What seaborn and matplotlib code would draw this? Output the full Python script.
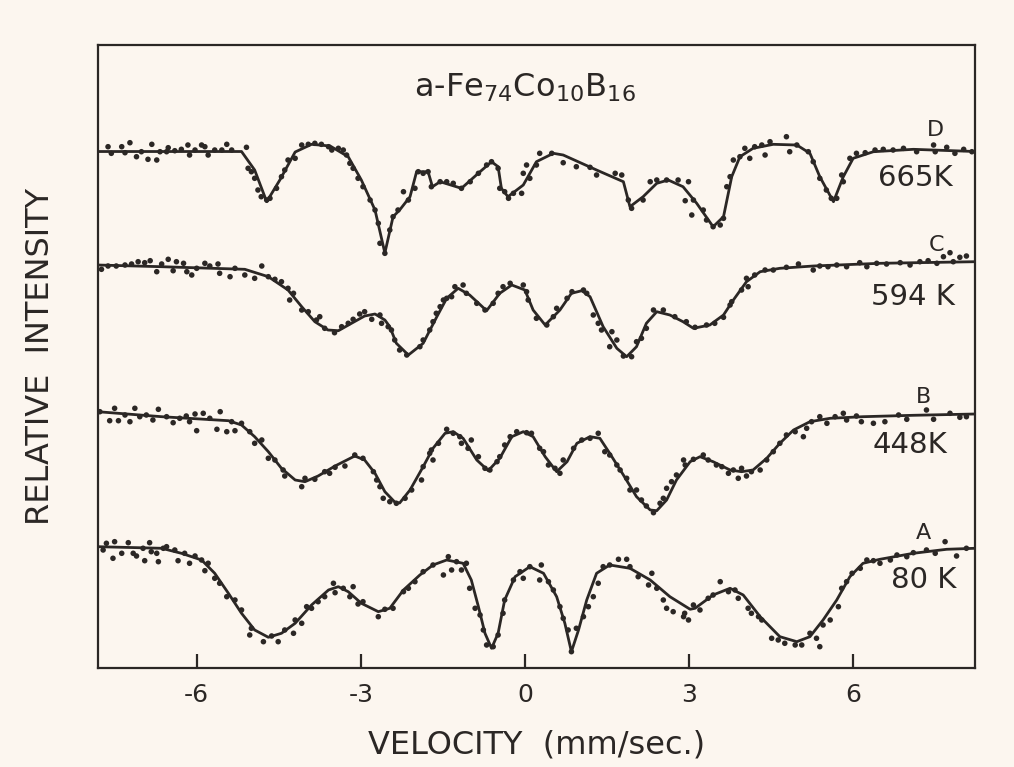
import numpy as np
import pandas as pd
import matplotlib
matplotlib.use("Agg")
import matplotlib.pyplot as plt
import seaborn as sns

# ---------------- data (velocity in mm/s, relative intensity in %) ----------------
spectra = ["D", "C", "B", "A"]
temperatures = ["665K", "594 K", "448K", "80 K"]

# D: 665 K  -- fitted curve
d_fit_v = [-7.81, -5.18, -4.94, -4.72, -4.48, -4.20, -3.90, -3.56, -3.23, -2.99, -2.74, -2.56, -2.41,
           -2.29, -2.10, -1.98, -1.77, -1.69, -1.55, -1.16, -0.82, -0.61, -0.49, -0.43, -0.31, -0.03,
           0.21, 0.52, 0.70, 1.31, 1.80, 1.92, 2.16, 2.41, 2.62, 2.89, 3.14, 3.44, 3.63, 3.78, 3.93,
           4.17, 4.54, 4.97, 5.21, 5.39, 5.64, 5.82, 6.00, 6.37, 7.10, 8.23]
d_fit_t = [100.0, 100.0, 98.15, 94.98, 97.15, 99.95, 100.72, 100.55, 99.48, 97.15, 94.15, 89.85, 93.48,
           94.15, 95.48, 97.98, 97.98, 96.48, 96.98, 96.32, 97.98, 98.98, 98.48, 96.32, 95.48, 96.65,
           98.98, 99.82, 99.65, 98.15, 96.98, 94.48, 95.48, 96.82, 97.15, 96.48, 94.82, 92.48, 93.48,
           97.48, 99.48, 100.32, 100.72, 100.65, 99.82, 97.48, 94.98, 97.48, 99.32, 99.98, 100.22, 100.0]
# D: measured points
d_pts_v = [-7.62, -7.56, -7.37, -7.31, -7.22, -7.10, -7.01, -6.89, -6.82, -6.73, -6.67, -6.55, -6.52,
           -6.40, -6.28, -6.16, -6.13, -6.03, -5.91, -5.85, -5.79, -5.67, -5.54, -5.45, -5.36, -5.09,
           -5.06, -5.00, -4.94, -4.88, -4.82, -4.72, -4.66, -4.54, -4.45, -4.39, -4.33, -4.20, -4.08,
           -3.96, -3.84, -3.72, -3.59, -3.53, -3.41, -3.32, -3.26, -3.20, -3.14, -3.05, -2.96, -2.83,
           -2.74, -2.68, -2.65, -2.56, -2.47, -2.41, -2.32, -2.22, -2.13, -2.01, -1.95, -1.86, -1.77,
           -1.71, -1.55, -1.43, -1.31, -1.16, -1.00, -0.85, -0.70, -0.61, -0.49, -0.46, -0.37, -0.30,
           -0.21, -0.06, -0.03, 0.03, 0.09, 0.21, 0.27, 0.49, 0.70, 0.94, 1.19, 1.31, 1.65, 1.77, 1.89,
           1.95, 2.16, 2.29, 2.41, 2.59, 2.80, 2.93, 2.99, 3.05, 3.08, 3.26, 3.32, 3.44, 3.57, 3.63,
           3.69, 3.75, 3.81, 3.93, 4.02, 4.11, 4.20, 4.33, 4.39, 4.48, 4.78, 4.84, 4.97, 5.18, 5.27,
           5.39, 5.51, 5.60, 5.70, 5.79, 5.82, 5.94, 6.06, 6.22, 6.40, 6.55, 6.73, 6.92, 7.16, 7.47,
           7.50, 7.71, 7.86, 8.02, 8.17]
d_pts_t = [100.48, 99.82, 100.48, 99.88, 100.88, 99.48, 99.98, 99.22, 100.72, 99.15, 99.98, 99.98, 100.38,
           100.08, 100.22, 100.65, 99.65, 100.15, 100.65, 100.48, 99.65, 100.15, 100.15, 100.72, 100.15, 100.42,
           98.32, 97.98, 97.32, 96.15, 95.48, 95.15, 95.32, 96.32, 97.48, 98.15, 99.15, 99.32, 100.65,
           100.72, 100.82, 100.72, 100.48, 100.15, 100.32, 100.15, 99.65, 98.82, 98.32, 97.32, 96.48, 95.15,
           94.15, 92.82, 90.82, 89.82, 92.15, 93.48, 94.15, 95.98, 95.15, 96.32, 97.98, 97.82, 97.98,
           96.48, 96.98, 96.98, 96.82, 96.32, 96.98, 97.82, 98.65, 98.98, 98.32, 96.32, 95.98, 95.32,
           95.82, 95.82, 97.82, 98.65, 97.32, 98.65, 99.82, 99.82, 98.88, 98.48, 98.42, 97.65, 97.82, 97.65, 95.15,
           94.32, 95.15, 96.98, 97.15, 97.15, 97.15, 95.08, 96.98, 93.65, 95.15, 94.15, 93.15, 92.48, 92.65, 93.32,
           96.48, 97.48, 99.15, 99.48, 100.32, 99.32, 100.48, 100.65, 99.65, 100.98, 101.48, 99.98, 100.65, 99.98, 98.98,
           97.32, 96.15, 95.32, 95.32, 97.65, 96.98, 99.32, 99.82, 99.88, 100.15, 100.22, 100.15, 100.32, 99.98, 100.65,
           99.98, 100.42, 99.82, 100.22, 99.98]

# C: 594 K
c_fit_v = [-7.81, -6.64, -5.12, -4.69, -4.33, -4.08, -3.84, -3.60, -3.41, -3.17, -2.93, -2.74, -2.56,
           -2.47, -2.35, -2.13, -1.86, -1.61, -1.43, -1.22, -1.01, -0.70, -0.46, -0.24, 0.00, 0.15, 0.37,
           0.64, 0.85, 1.04, 1.19, 1.43, 1.68, 1.86, 2.04, 2.22, 2.41, 2.65, 2.89, 3.08, 3.38, 3.63,
           3.81, 4.05, 4.30, 4.66, 5.27, 6.49, 8.23]
c_fit_t = [100.0, 99.83, 99.57, 98.83, 97.5, 95.83, 94.33, 93.5, 93.43, 94.17, 94.9, 95.1, 94.5,
           93.83, 92.17, 91.0, 92.17, 94.83, 96.67, 97.67, 97.0, 95.43, 97.17, 98.0, 97.5, 95.5, 94.0,
           95.5, 97.17, 97.43, 96.83, 93.83, 91.67, 90.83, 91.83, 94.17, 95.33, 95.0, 94.33, 93.67, 94.0, 95.0,
           96.5, 98.33, 99.33, 99.67, 99.9, 100.17, 100.33]
c_pts_v = [-7.74, -7.62, -7.47, -7.31, -7.19, -7.07, -6.95, -6.85, -6.73, -6.64, -6.52, -6.43, -6.37,
           -6.24, -6.18, -6.09, -6.00, -5.85, -5.76, -5.61, -5.58, -5.39, -5.30, -5.12, -4.94, -4.81,
           -4.69, -4.57, -4.45, -4.33, -4.23, -4.30, -4.08, -3.96, -3.81, -3.75, -3.66, -3.48, -3.35,
           -3.23, -3.14, -3.02, -2.93, -2.80, -2.65, -2.62, -2.50, -2.44, -2.38, -2.29, -2.16, -1.92,
           -1.86, -1.74, -1.68, -1.62, -1.55, -1.49, -1.43, -1.34, -1.28, -1.13, -1.07, -0.88, -0.73,
           -0.58, -0.49, -0.40, -0.27, -0.03, 0.03, 0.06, 0.21, 0.40, 0.52, 0.58, 0.77, 0.86, 1.07,
           1.13, 1.25, 1.34, 1.40, 1.59, 1.68, 1.55, 1.80, 1.95, 2.04, 2.13, 2.22, 2.35, 2.53, 2.74,
           2.95, 3.11, 3.32, 3.47, 3.63, 3.75, 3.78, 3.96, 4.08, 4.05, 4.20, 4.39, 4.54, 4.78, 5.00,
           5.27, 5.39, 5.54, 5.70, 5.88, 6.12, 6.25, 6.43, 6.61, 6.86, 7.04, 7.22, 7.37, 7.53, 7.65,
           7.77, 7.83, 7.95, 8.07]
c_pts_t = [99.57, 99.9, 99.9, 100.0, 100.1, 100.33, 100.23, 100.43, 99.33, 100.1, 100.57, 99.43, 100.33,
           100.17, 99.33, 99.0, 99.67, 100.17, 99.9, 100.1, 99.17, 98.83, 99.67, 99.0, 98.67, 99.9,
           98.83, 98.57, 98.33, 97.67, 97.17, 96.5, 95.5, 95.33, 94.5, 94.83, 93.67, 93.23, 93.83,
           94.17, 94.57, 95.1, 95.33, 94.57, 95.0, 94.17, 93.83, 93.5, 92.5, 91.5, 91.0, 91.83,
           92.5, 93.5, 94.33, 95.17, 95.83, 96.5, 96.67, 96.83, 97.83, 98.0, 97.17, 96.17, 95.5,
           96.17, 97.17, 97.83, 98.17, 98.0, 97.33, 96.5, 94.67, 94.0, 94.83, 95.67, 96.67, 97.33, 97.5,
           97.17, 95.0, 94.17, 93.5, 93.33, 92.5, 91.83, 90.9, 90.83, 92.33, 92.67, 93.67, 95.5, 95.5, 94.83,
           94.33, 93.77, 94.0, 94.17, 94.77, 96.0, 96.33, 97.5, 97.83, 98.67, 99.0, 99.5, 99.5, 99.77, 100.1,
           99.5, 99.9, 99.83, 100.0, 99.83, 100.23, 99.83, 100.17, 100.1, 100.23, 100.0, 100.33, 100.43, 100.17, 100.83,
           101.23, 100.33, 100.77, 100.9]

# B: 448 K
b_fit_v = [-7.81, -6.64, -5.42, -5.18, -4.94, -4.69, -4.45, -4.20, -4.02, -3.78, -3.47, -3.11, -2.93,
           -2.74, -2.56, -2.38, -2.29, -2.10, -1.86, -1.68, -1.46, -1.31, -1.13, -0.88, -0.67, -0.46,
           -0.24, -0.03, 0.15, 0.37, 0.58, 0.77, 0.95, 1.19, 1.37, 1.55, 1.80, 2.04, 2.29, 2.41, 2.59,
           2.77, 3.02, 3.20, 3.44, 3.75, 3.96, 4.17, 4.42, 4.66, 4.91, 5.21, 5.58, 6.18, 7.10, 8.23]
b_fit_t = [100.03, 99.53, 99.13, 98.7, 97.53, 96.03, 94.37, 93.2, 93.03, 93.6, 94.6, 95.6, 95.2,
           93.87, 92.03, 91.0, 90.9, 92.2, 94.53, 96.37, 97.87, 98.03, 97.37, 95.2, 94.13, 95.37,
           97.53, 98.03, 97.53, 95.53, 94.03, 95.03, 96.87, 97.53, 97.37, 95.87, 93.7, 91.53, 90.2, 90.13, 91.2,
           93.2, 95.03, 95.53, 95.03, 94.2, 94.03, 94.2, 95.37, 96.87, 98.2, 99.03, 99.37, 99.53, 99.67, 99.8]
b_pts_v = [-7.77, -7.59, -7.50, -7.43, -7.31, -7.22, -7.13, -7.04, -6.92, -6.80, -6.70, -6.55, -6.43,
           -6.31, -6.19, -6.13, -6.03, -6.00, -5.88, -5.76, -5.63, -5.57, -5.45, -5.30, -5.36, -5.18,
           -5.03, -4.94, -4.81, -4.69, -4.57, -4.42, -4.39, -4.08, -4.02, -3.84, -3.66, -3.57, -3.47,
           -3.29, -3.11, -2.96, -2.77, -2.71, -2.65, -2.59, -2.47, -2.35, -2.19, -2.07, -1.89, -1.86,
           -1.74, -1.68, -1.71, -1.58, -1.43, -1.31, -1.19, -1.16, -1.04, -0.98, -0.85, -0.73, -0.64,
           -0.51, -0.46, -0.37, -0.27, -0.15, 0.03, 0.12, 0.27, 0.34, 0.43, 0.55, 0.70, 0.64, 0.89,
           1.04, 1.19, 1.34, 1.46, 1.55, 1.68, 1.74, 1.86, 1.92, 2.04, 2.13, 2.22, 2.35, 2.47, 2.53,
           2.59, 2.68, 2.77, 2.90, 2.93, 3.08, 3.26, 3.35, 3.50, 3.60, 3.72, 3.81, 3.90, 3.96, 4.05,
           4.14, 4.30, 4.42, 4.54, 4.66, 4.78, 4.94, 5.09, 5.15, 5.24, 5.39, 5.52, 5.67, 5.82, 5.88,
           6.06, 6.15, 6.37, 6.58, 6.83, 6.98, 7.34, 7.47, 7.77, 7.95, 8.07]
b_pts_t = [100.03, 99.13, 100.37, 99.13, 99.7, 99.03, 100.37, 99.53, 99.7, 99.2, 100.27, 99.53, 98.93,
           99.37, 99.6, 99.03, 99.8, 98.13, 99.87, 99.37, 98.27, 100.03, 98.03, 98.13, 99.03, 98.87,
           98.03, 96.87, 97.2, 95.37, 95.2, 94.2, 93.6, 92.53, 93.37, 93.27, 94.03, 93.87, 94.47,
           94.6, 95.7, 95.37, 94.03, 93.2, 92.53, 91.37, 91.03, 90.87, 91.37, 92.2, 93.2, 94.53,
           95.87, 95.2, 96.2, 96.87, 98.27, 97.87, 97.53, 96.87, 96.37, 97.2, 95.53, 94.37, 94.2,
           95.03, 95.53, 96.7, 97.53, 98.03, 97.93, 97.87, 96.37, 96.03, 94.7, 94.37, 95.2, 93.87, 96.37,
           97.2, 97.37, 97.87, 96.03, 95.7, 94.7, 94.2, 93.37, 92.2, 92.2, 91.2, 90.6, 89.93, 90.87, 91.37,
           92.37, 93.03, 93.7, 95.2, 94.7, 95.27, 95.7, 95.2, 94.7, 94.53, 93.87, 94.2, 93.37, 94.37, 93.6,
           94.03, 94.2, 95.2, 96.03, 96.87, 97.7, 98.03, 97.53, 98.37, 99.03, 99.53, 98.87, 99.53, 99.87, 99.2,
           99.6, 99.03, 98.87, 99.03, 99.7, 99.27, 100.2, 99.27, 99.87, 99.47, 99.53]

# A: 80 K
a_fit_v = [-7.81, -6.64, -6.28, -5.91, -5.67, -5.42, -5.18, -4.94, -4.69, -4.45, -4.20, -3.90, -3.59,
           -3.41, -3.23, -2.99, -2.68, -2.47, -2.22, -1.92, -1.68, -1.43, -1.13, -0.98, -0.85, -0.73,
           -0.61, -0.49, -0.37, -0.18, 0.09, 0.34, 0.58, 0.73, 0.85, 0.98, 1.13, 1.31, 1.55, 1.92, 2.29,
           2.65, 3.02, 3.11, 3.44, 3.75, 3.99, 4.30, 4.66, 4.97, 5.21, 5.45, 5.70, 5.94, 6.18, 6.49,
           7.10, 7.71, 8.23]
a_fit_t = [100.03, 99.87, 99.37, 98.7, 97.37, 95.37, 93.37, 91.7, 90.97, 91.37, 92.37, 94.2, 95.7,
           96.03, 95.53, 94.37, 93.53, 93.87, 95.7, 97.2, 98.2, 98.7, 98.37, 96.7, 94.03, 91.37,
           89.87, 91.37, 94.7, 97.03, 98.03, 97.37, 95.03, 92.37, 89.53, 91.7, 94.7, 97.37, 98.2, 97.87, 96.7,
           95.03, 93.77, 93.87, 95.2, 95.87, 95.2, 93.03, 91.03, 90.53, 91.03, 92.7, 94.7, 97.03, 98.37, 98.77,
           99.37, 99.77, 99.87]
a_pts_v = [-7.71, -7.65, -7.53, -7.50, -7.37, -7.25, -7.16, -7.10, -6.98, -6.95, -6.86, -6.83, -6.73,
           -6.70, -6.61, -6.55, -6.40, -6.34, -6.22, -6.13, -6.03, -5.91, -5.85, -5.79, -5.67, -5.58,
           -5.45, -5.30, -5.18, -5.03, -5.00, -4.78, -4.63, -4.51, -4.39, -4.23, -4.20, -4.08, -3.99,
           -3.90, -3.78, -3.66, -3.50, -3.47, -3.32, -3.20, -3.14, -3.05, -2.96, -2.68, -2.56, -2.41,
           -2.22, -2.13, -2.01, -1.86, -1.68, -1.49, -1.40, -1.34, -1.25, -1.16, -1.07, -1.01, -0.91,
           -0.82, -0.76, -0.70, -0.58, -0.49, -0.40, -0.37, -0.21, -0.09, -0.03, 0.09, 0.27, 0.30, 0.43,
           0.52, 0.64, 0.70, 0.79, 0.85, 0.94, 1.07, 1.16, 1.25, 1.34, 1.43, 1.55, 1.71, 1.86, 1.92,
           2.07, 2.26, 2.32, 2.41, 2.53, 2.59, 2.71, 2.90, 2.92, 2.99, 3.08, 3.20, 3.35, 3.44, 3.57,
           3.72, 3.84, 3.90, 4.08, 4.14, 4.27, 4.33, 4.51, 4.63, 4.75, 4.94, 5.06, 5.21, 5.33, 5.39,
           5.45, 5.58, 5.73, 5.79, 5.88, 5.98, 6.13, 6.25, 6.37, 6.49, 6.68, 6.80, 6.98, 7.10, 7.34,
           7.50, 7.68, 7.89, 8.07]
a_pts_t = [99.7, 100.37, 98.87, 100.53, 99.37, 100.43, 99.37, 99.1, 99.87, 98.63, 100.43, 99.53, 99.37,
           98.53, 99.87, 100.03, 99.7, 98.63, 99.37, 98.37, 99.1, 98.7, 97.63, 98.37, 96.87, 96.37,
           95.03, 94.7, 93.7, 91.2, 91.87, 90.53, 91.1, 90.53, 91.7, 91.37, 92.7, 92.37, 94.03,
           93.87, 94.53, 95.03, 96.37, 95.43, 95.87, 95.03, 96.03, 94.3, 94.53, 93.03, 93.77, 93.87,
           95.53, 95.87, 96.53, 97.53, 98.2, 97.2, 99.03, 97.7, 98.53, 97.7, 98.37, 95.87, 93.87,
           93.2, 91.7, 90.2, 90.03, 91.2, 93.37, 94.7, 96.7, 97.53, 96.87, 98.03, 96.7, 98.2, 96.53,
           95.7, 94.03, 92.87, 91.7, 89.53, 91.87, 93.03, 94.03, 95.03, 96.37, 98.03, 98.2, 98.77, 98.77, 98.03,
           97.03, 96.2, 97.37, 95.87, 94.7, 93.87, 93.53, 93.03, 93.37, 92.7, 94.2, 93.7, 94.87, 95.2, 96.53,
           95.53, 95.7, 94.87, 93.87, 93.37, 93.03, 92.7, 90.87, 90.7, 90.37, 90.2, 90.2, 91.37, 90.87, 90.03,
           92.2, 92.7, 94.03, 95.87, 96.53, 97.37, 97.87, 98.7, 98.63, 98.37, 98.7, 99.2, 99.03, 99.43, 99.7,
           99.37, 100.53, 99.1, 99.87]

# vertical stacking offsets of the spectra (intensity %)
offsets = [0.0, 11.35, 26.05, 39.55]

x_ticks = [-6, -3, 0, 3, 6]

# ---------------- build frames ----------------
fits = [(d_fit_v, d_fit_t), (c_fit_v, c_fit_t), (b_fit_v, b_fit_t), (a_fit_v, a_fit_t)]
pts = [(d_pts_v, d_pts_t), (c_pts_v, c_pts_t), (b_pts_v, b_pts_t), (a_pts_v, a_pts_t)]

fit_frames, pt_frames = [], []
for name, off, (fv, ft), (pv, pt) in zip(spectra, offsets, fits, pts):
    fit_frames.append(pd.DataFrame({"v": fv, "y": np.array(ft) - off, "s": name}))
    pt_frames.append(pd.DataFrame({"v": pv, "y": np.array(pt) - off, "s": name}))
fit_df = pd.concat(fit_frames, ignore_index=True)
pt_df = pd.concat(pt_frames, ignore_index=True)

# ---------------- plot ----------------
sns.set_theme(style="white")
plt.rcParams["font.family"] = ["DejaVu Sans"]
ink = "#2b2725"
paper = "#fcf6ef"

fig = plt.figure(figsize=(10.14, 7.67), dpi=100, facecolor=paper)
ax = fig.add_axes([0.0963, 0.1291, 0.8654, 0.8122])
ax.set_facecolor(paper)

pal = {s: ink for s in spectra}
sns.lineplot(data=fit_df, x="v", y="y", hue="s", units="s", estimator=None, sort=False,
             palette=pal, linewidth=2.0, legend=False, ax=ax,
             solid_joinstyle="round", solid_capstyle="round")
sns.scatterplot(data=pt_df, x="v", y="y", hue="s", palette=pal, s=16, linewidth=0,
                legend=False, ax=ax, zorder=3)

ax.set_xlim(-7.81, 8.23)
ax.set_ylim(48.35, 110.65)
ax.set_xticks(x_ticks)
ax.set_xticklabels([f"{t:d}" for t in x_ticks], fontsize=18, color=ink)
ax.set_yticks([])
ax.tick_params(axis="x", direction="in", length=10, width=1.6, color=ink, pad=11, bottom=True)
for sp in ax.spines.values():
    sp.set_color(ink)
    sp.set_linewidth(1.6)

ax.set_xlabel("VELOCITY  (mm/sec.)", fontsize=23, color=ink, labelpad=16)
ax.set_ylabel("RELATIVE  INTENSITY", fontsize=23, color=ink, labelpad=30)

ax.text(0.0, 106.35, "a-Fe$_{74}$Co$_{10}$B$_{16}$", ha="center", va="center", fontsize=23, color=ink)

label_pos = [(7.50, 102.15, 7.13, 97.35), (7.53, 90.65, 7.09, 85.45),
             (7.28, 75.45, 7.04, 70.65), (7.28, 61.85, 7.28, 57.15)]
for name, temp, (lx, ly, tx, ty) in zip(spectra, temperatures, label_pos):
    ax.text(lx, ly, name, ha="center", va="center", fontsize=16, color=ink)
    ax.text(tx, ty, temp, ha="center", va="center", fontsize=21, color=ink)

fig.savefig("out.png", dpi=100, facecolor=paper)
